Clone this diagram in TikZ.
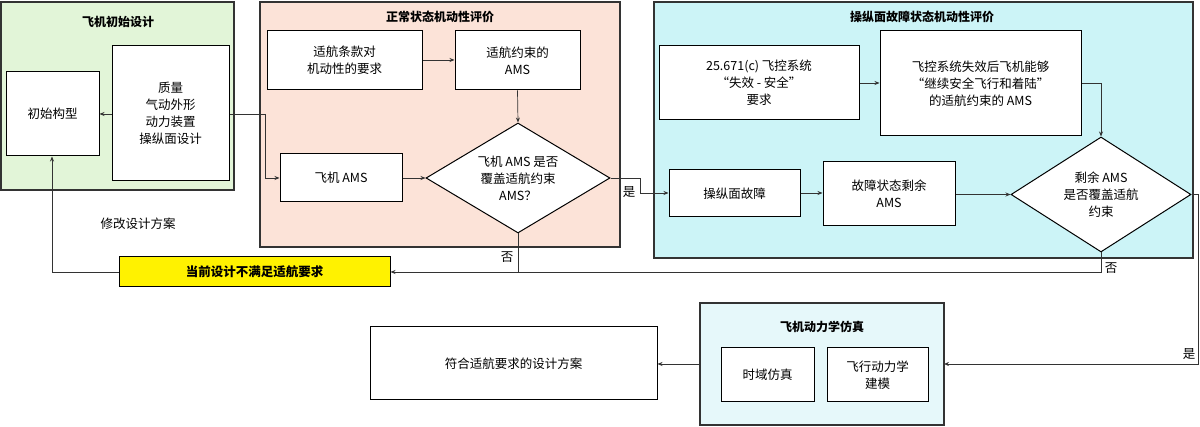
\documentclass[tikz,border=0pt]{standalone}
\usepackage{fontspec}
\setmainfont{Liberation Serif}
\newfontfamily\cjk{Noto Sans CJK SC}
\usetikzlibrary{shapes.geometric,arrows.meta}
\definecolor{gfill}{HTML}{E2F5D8}
\definecolor{sfill}{HTML}{FCE3D8}
\definecolor{cfill}{HTML}{CCF4F7}
\definecolor{lcfill}{HTML}{E6F8FA}
\definecolor{lnc}{HTML}{333333}
\tikzset{
 box/.style={draw=black,line width=1pt,fill=white,align=center,inner sep=1pt,font=\cjk\fontsize{12.5}{17}\selectfont},
 grp/.style={draw=black!80,line width=1.1pt},
 ttl/.style={font=\cjk\bfseries\fontsize{12}{14}\selectfont},
 lab/.style={font=\cjk\fontsize{12.5}{14}\selectfont},
 dia/.style={diamond,draw=black,line width=1pt,fill=white,align=center,inner sep=0pt,aspect=1.65,font=\cjk\fontsize{12.5}{17}\selectfont},
 con/.style={draw=lnc,line width=0.7pt,-{Stealth[length=5pt,width=4pt]}},
 lin/.style={draw=lnc,line width=0.7pt}
}
\newcommand{\bx}[6]{\node[box,minimum width=#4pt-#2pt,minimum height=#5pt-#3pt] (#1) at ({(#2+#4)/2},{(#3+#5)/2}) {#6};}
\newcommand{\gp}[6]{\path[grp,fill=#6] (#2,#3) rectangle (#4,#5); \coordinate (#1) at ({(#2+#4)/2},{(#3+#5)/2});}
\begin{document}
\begin{tikzpicture}[x=1pt,y=-1pt]
\useasboundingbox (0,0) rectangle (1200,427);
% groups
\gp{g1}{1}{2}{234}{190}{gfill}
\gp{g2}{260}{2}{620}{247}{sfill}
\gp{g3}{654}{2}{1193}{258}{cfill}
\path[grp,fill=lcfill] (700,303) rectangle (944,425);
\coordinate (g4) at (822,364);
\node[ttl] (t1) at (118,22) {飞机初始设计};
\node[ttl] (t2) at (440,17) {正常状态机动性评价};
\node[ttl] (t3) at (922,17) {操纵面故障状态机动性评价};
\node[ttl] (t4) at (822,327) {飞机动力学仿真};
% boxes
\bx{init}{6}{72}{99}{156}{初始构型}
\bx{mass}{112}{46}{229}{181}{质量\\气动外形\\动力装置\\操纵面设计}
\bx{req}{267}{31}{422}{90}{适航条款对\\机动性的要求}
\bx{ams1}{455}{31}{580}{90}{适航约束的\\AMS}
\bx{pams}{280}{154}{402}{202}{飞机 AMS}
\node[dia,minimum width=184pt,minimum height=110pt] (d1) at (518,178) {飞机 AMS 是否\\覆盖适航约束\\AMS？};
\node[box,fill=yellow,minimum width=271pt,minimum height=30pt,font=\cjk\bfseries\fontsize{12.5}{14}\selectfont] (yel) at (254.5,272) {当前设计不满足适航要求};
\node[lab] (mod) at (138,224) {修改设计方案};
\bx{r671}{659}{46}{859}{120}{25.671(c) 飞控系统\\“失效 - 安全”\\要求}
\bx{fc}{880}{31}{1081}{136}{飞控系统失效后飞机能够\\“继续安全飞行和着陆”\\的适航约束的 AMS}
\bx{sf}{669}{170}{800}{217}{操纵面故障}
\bx{rem}{823}{162}{955}{226}{故障状态剩余\\AMS}
\node[dia,minimum width=180pt,minimum height=115pt] (d2) at (1101,194.5) {剩余 AMS\\是否覆盖适航\\约束};
\bx{td}{721}{348}{814}{402}{时域仿真}
\bx{fd}{827}{348}{928}{402}{飞行动力学\\建模}
\bx{ok}{370}{327}{657}{400}{符合适航要求的设计方案}
% connectors
\coordinate (j1) at (265,114);
\coordinate (j2) at (265,178);
\draw[lin] (mass.east |- j1) -- (j1);
\draw[con] (j1) -- (j2) -- (pams.west);
\draw[con] (mass.west |- init.east) -- (init.east);
\draw[con] (req.east |- 0,60) -- (ams1.west |- 0,60);
\draw[con] (ams1.south) -- (d1.north);
\draw[con] (pams.east) -- (d1.west);
\coordinate (k1) at (640,178);
\coordinate (k2) at (640,193);
\draw[con] (d1.east) -- (k1) -- (k2) -- (sf.west |- k2);
\node[lab] (yes1) at (629,192) {是};
\draw[con] (r671.east |- 0,83) -- (fc.west |- 0,83);
\coordinate (m1) at (1101,83);
\draw[con] (fc.east |- m1) -- (m1) -- (d2.north);
\draw[con] (sf.east |- 0,193) -- (rem.west |- 0,193);
\draw[con] (rem.east |- d2.west) -- (d2.west);
\coordinate (n1) at (1101,272);
\draw[con] (d2.south) -- (n1) -- (yel.east);
\coordinate (n2) at (518,272);
\draw[lin] (d1.south) -- (n2);
\node[lab] (no1) at (507,257) {否};
\node[lab] (no2) at (1111,268) {否};
\coordinate (y1) at (1198,194.5);
\coordinate (y2) at (1198,364);
\draw[con] (d2.east) -- (y1) -- (y2) -- (944,364);
\node[lab] (yes2) at (1189,354) {是};
\draw[con] (700,364) -- (ok.east |- 0,364);
\coordinate (l1) at (52,272);
\draw[con] (yel.west) -- (l1) -- (init.south -| l1);
\end{tikzpicture}
\end{document}
